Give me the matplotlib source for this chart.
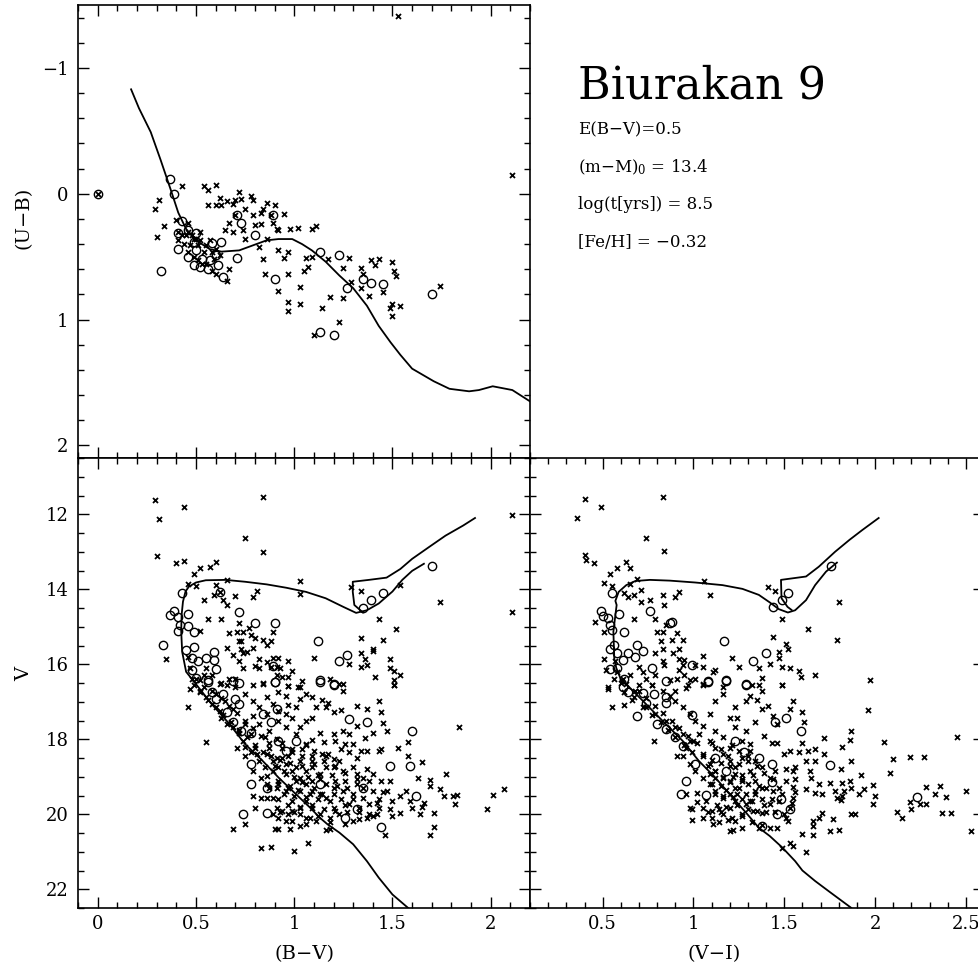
import numpy as np
import matplotlib
matplotlib.use("Agg")
import matplotlib.pyplot as plt
from matplotlib.ticker import MultipleLocator, FuncFormatter

plt.rcParams['font.family'] = ['DejaVu Serif']
plt.rcParams['mathtext.fontset'] = 'dejavuserif'

# ---- (U-B) vs (B-V) ----
ub_iso_bv = [0.17, 0.21, 0.27, 0.32, 0.37, 0.41, 0.45, 0.50, 0.57, 0.63, 0.72, 0.79, 0.86, 0.92,
             0.99, 1.04, 1.09, 1.16, 1.23, 1.30, 1.37, 1.43, 1.49, 1.54, 1.60, 1.71, 1.79, 1.89,
             1.94, 2.01, 2.11, 2.22]
ub_iso_ub = [-0.83, -0.68, -0.49, -0.27, -0.04, 0.15, 0.28, 0.37, 0.44, 0.46, 0.45, 0.41, 0.37, 0.36,
             0.36, 0.40, 0.45, 0.54, 0.65, 0.75, 0.89, 1.05, 1.18, 1.28, 1.39, 1.49, 1.55, 1.57,
             1.56, 1.53, 1.56, 1.67]

ub_cross = np.array([
    (0.29, 0.12), (0.31, 0.05), (0.34, 0.26), (0.30, 0.34), (0.43, -0.06), (0.54, -0.06), (0.56, -0.03),
    (0.60, -0.07), (0.62, 0.03), (0.60, 0.09), (0.56, 0.09), (0.63, 0.09), (0.66, 0.06), (0.69, 0.08),
    (0.72, -0.01), (0.70, 0.05), (0.73, 0.04), (0.78, 0.02), (0.79, 0.05), (0.86, 0.07), (0.90, 0.09),
    (0.95, 0.16), (0.75, 0.12), (0.79, 0.17), (0.83, 0.15), (0.84, 0.12), (0.70, 0.17), (0.67, 0.23),
    (0.65, 0.29), (0.69, 0.30), (0.74, 0.29), (0.75, 0.36), (0.80, 0.25), (0.83, 0.24), (0.88, 0.17),
    (0.89, 0.23), (0.91, 0.28), (0.92, 0.29), (0.98, 0.28), (1.02, 0.27), (1.09, 0.28), (1.11, 0.26),
    (0.82, 0.42), (0.84, 0.52), (0.85, 0.64), (0.86, 0.36), (0.92, 0.45), (0.95, 0.51), (0.97, 0.46),
    (0.97, 0.64), (0.92, 0.77), (0.97, 0.86), (0.97, 0.93), (1.03, 0.74), (1.03, 0.88), (1.05, 0.61),
    (1.07, 0.58), (1.06, 0.51), (1.09, 0.50), (1.17, 0.52), (1.25, 0.59), (1.28, 0.51), (1.29, 0.70),
    (1.25, 0.83), (1.18, 0.82), (1.14, 0.91), (1.23, 1.02), (1.34, 0.59), (1.34, 0.75), (1.38, 0.81),
    (1.35, 0.64), (1.39, 0.53), (1.41, 0.57), (1.43, 0.52), (1.45, 0.78), (1.50, 0.54), (1.51, 0.61),
    (1.52, 0.65), (1.50, 0.88), (1.49, 0.91), (1.54, 0.89), (1.50, 0.97), (1.74, 0.73), (1.10, 1.12),
    (0.40, 0.21), (0.46, 0.23), (0.67, 0.60), (0.66, 0.69), (0.60, 0.64), (0.41, 0.30), (0.45, 0.33),
    (0.43, 0.33), (0.46, 0.30), (0.49, 0.36), (0.52, 0.30), (0.41, 0.37), (0.44, 0.40), (0.47, 0.41),
    (0.51, 0.41), (0.52, 0.37), (0.55, 0.41), (0.58, 0.46), (0.59, 0.52), (0.53, 0.56), (0.49, 0.50),
    (0.55, 0.56), (0.58, 0.61), (0.62, 0.49), (0.51, 0.53), (0.46, 0.46), (0.54, 0.46), (0.60, 0.44),
    (0.50, 0.36), (0.48, 0.33), (0.57, 0.37), (2.11, -0.15), (1.53, -1.41), (0.00, 0.00)])

ub_circle = np.array([
    (0.37, -0.12), (0.39, 0.00), (0.43, 0.22), (0.41, 0.31), (0.41, 0.44), (0.46, 0.29), (0.49, 0.38),
    (0.50, 0.31), (0.46, 0.50), (0.49, 0.57), (0.52, 0.58), (0.50, 0.45), (0.53, 0.52), (0.56, 0.60),
    (0.57, 0.53), (0.58, 0.39), (0.60, 0.49), (0.61, 0.57), (0.63, 0.38), (0.64, 0.66), (0.71, 0.51),
    (0.73, 0.23), (0.71, 0.17), (0.80, 0.33), (0.89, 0.17), (0.90, 0.68), (1.13, 0.46), (1.23, 0.49),
    (1.27, 0.75), (1.13, 1.10), (1.20, 1.12), (1.35, 0.68), (1.39, 0.71), (1.45, 0.72), (1.70, 0.80),
    (0.32, 0.61), (0.00, 0.00)])

# ---- V vs (B-V) ----
bv_iso = np.array([
    (1.60, 22.65), (1.58, 22.50), (1.50, 22.14), (1.43, 21.69), (1.37, 21.25), (1.30, 20.80),
    (1.23, 20.49), (1.17, 20.27), (1.13, 20.09), (1.08, 19.82), (1.01, 19.47), (0.92, 19.02),
    (0.84, 18.58), (0.75, 18.13), (0.67, 17.59), (0.58, 17.06), (0.50, 16.53), (0.45, 16.20),
    (0.43, 15.67), (0.425, 15.13), (0.427, 14.69), (0.434, 14.33), (0.447, 14.06), (0.464, 13.93),
    (0.50, 13.82), (0.55, 13.76), (0.65, 13.75), (0.75, 13.80), (0.86, 13.87), (0.96, 13.96),
    (1.06, 14.07), (1.16, 14.24), (1.25, 14.47), (1.315, 14.63), (1.37, 14.56), (1.43, 14.38),
    (1.50, 14.06), (1.55, 13.75), (1.60, 13.51), (1.66, 13.32)])
bv_loop = np.array([
    (1.35, 14.62), (1.306, 14.42), (1.298, 14.07), (1.298, 13.80), (1.38, 13.75), (1.47, 13.69),
    (1.54, 13.46), (1.60, 13.19), (1.69, 12.86), (1.77, 12.57), (1.86, 12.30), (1.92, 12.10)])

bv_cross = np.array([
    (0.29, 11.61), (0.31, 12.13), (0.44, 11.81), (0.84, 11.55), (0.75, 12.64), (0.84, 13.00), (0.30, 13.10),
    (0.40, 13.29), (0.44, 13.25), (0.52, 13.42), (0.57, 13.41), (0.60, 13.28), (0.49, 13.60), (0.46, 13.87),
    (0.50, 13.90), (0.66, 13.75), (1.03, 13.77), (1.03, 14.13), (0.60, 13.89), (0.59, 14.14), (0.62, 14.07),
    (0.64, 14.29), (0.66, 14.42), (0.54, 14.29), (0.70, 14.17), (0.79, 14.21), (0.81, 14.05), (0.56, 14.78),
    (0.63, 14.80), (0.72, 14.89), (0.77, 15.02), (0.52, 15.11), (0.67, 15.16), (0.71, 15.15), (0.74, 15.15),
    (0.78, 15.22), (0.89, 15.15), (0.72, 15.38), (0.73, 15.38), (0.80, 15.31), (0.84, 15.36), (0.86, 15.49),
    (0.88, 15.38), (0.79, 15.56), (0.73, 15.58), (0.66, 15.56), (0.69, 15.76), (0.74, 15.70), (0.76, 15.67),
    (0.72, 15.92), (0.82, 15.85), (0.86, 15.94), (0.89, 15.82), (0.92, 15.83), (0.97, 15.90), (0.74, 16.11),
    (0.80, 16.04), (0.82, 16.11), (0.88, 16.07), (0.91, 16.07), (0.93, 16.11), (0.99, 16.17), (0.91, 16.28),
    (0.94, 16.34), (0.97, 16.34), (1.04, 16.45), (1.03, 16.61), (0.97, 16.59), (0.84, 16.52), (0.79, 16.56),
    (0.70, 16.38), (0.67, 16.40), (0.66, 16.56), (0.62, 16.52), (0.55, 16.11), (0.54, 16.29), (0.52, 16.43),
    (0.48, 16.38), (0.49, 16.56), (0.58, 16.29), (0.35, 15.85), (1.29, 13.93), (1.34, 14.05), (1.54, 13.89),
    (1.43, 14.80), (1.52, 15.07), (1.74, 14.35), (2.11, 14.60), (2.11, 12.03), (1.34, 15.29), (1.45, 15.36),
    (1.40, 15.58), (1.40, 15.65), (1.34, 15.71), (1.36, 15.87), (1.37, 16.03), (1.34, 16.07), (1.28, 15.98),
    (1.49, 15.85), (1.49, 16.11), (1.51, 16.19), (1.54, 16.29), (1.51, 16.43), (1.51, 16.56), (1.41, 16.34),
    (1.10, 15.83), (1.18, 16.38), (1.25, 16.53), (1.23, 16.53),
    (0.47, 16.66), (0.46, 17.15), (0.55, 18.06), (0.63, 16.51), (0.84, 16.51), (0.97, 16.57), (1.02, 16.61),
    (1.25, 16.70), (1.51, 16.54), (0.92, 16.75), (0.96, 16.84), (1.06, 16.79), (1.09, 16.88), (1.14, 16.95),
    (1.17, 17.02), (0.97, 17.08), (1.01, 17.15), (1.11, 17.15), (1.16, 17.15), (1.20, 17.28), (1.24, 17.22),
    (1.32, 17.11), (1.37, 17.20), (1.43, 16.99), (1.44, 17.28), (1.45, 17.57), (1.47, 17.77), (1.40, 17.84),
    (1.36, 17.97), (1.32, 17.64), (1.28, 17.86), (1.25, 17.77), (1.20, 17.86), (1.13, 17.84), (1.15, 18.07),
    (1.09, 18.02), (1.06, 18.13), (1.01, 17.86), (0.96, 17.68), (0.92, 17.51), (0.86, 17.33), (0.82, 17.15),
    (0.79, 16.97), (0.75, 16.79), (0.70, 16.61), (0.86, 16.88), (0.89, 17.06), (0.79, 17.37), (0.75, 17.59),
    (0.82, 17.59), (0.87, 17.77), (0.91, 17.99), (0.94, 18.22), (0.99, 18.35), (1.03, 18.57), (1.09, 18.44),
    (1.14, 18.40), (1.17, 18.38), (1.20, 18.53), (1.24, 18.26), (1.28, 18.35), (1.32, 18.49), (1.34, 18.31),
    (1.37, 18.31), (1.43, 18.31), (1.44, 18.26), (1.53, 18.22), (1.58, 18.06), (1.58, 18.44), (1.65, 18.60),
    (1.84, 17.67), (1.77, 18.93), (1.63, 19.02), (1.69, 19.09), (1.69, 19.24), (1.74, 19.33), (1.76, 19.51),
    (1.81, 19.51), (1.82, 19.73), (1.83, 19.49), (2.01, 19.48), (2.07, 19.33), (1.98, 19.85), (1.71, 19.96),
    (1.71, 20.33), (1.69, 20.56), (1.64, 20.00), (1.65, 19.81), (1.60, 19.84), (1.59, 19.64), (1.66, 19.69),
    (1.57, 19.38), (1.54, 19.51), (1.54, 19.96), (1.50, 20.05), (1.49, 19.87), (1.50, 19.64), (1.47, 19.38),
    (1.43, 19.60), (1.43, 19.82), (1.40, 20.05), (1.37, 20.09), (1.33, 20.13), (1.30, 20.18), (1.26, 20.27),
    (1.46, 20.54), (1.38, 19.11), (1.35, 19.02), (1.32, 18.93), (1.30, 18.75), (1.25, 18.84), (1.21, 19.11),
    (1.20, 19.29), (1.25, 19.38), (1.30, 19.47), (1.35, 19.56), (1.40, 19.38), (1.40, 18.93), (1.37, 18.80),
    (1.44, 19.11), (1.49, 19.11), (1.16, 19.56), (1.20, 19.82), (1.23, 20.00), (1.18, 20.09), (1.13, 20.00),
    (1.16, 20.43), (1.18, 20.40), (1.09, 19.82), (1.06, 19.64), (1.03, 20.00), (1.03, 20.31), (0.98, 20.40),
    (0.92, 20.40), (0.90, 20.40), (1.07, 20.76), (1.00, 20.98), (0.88, 20.87), (0.83, 20.91), (0.69, 20.38),
    (0.75, 20.25), (0.80, 19.84), (0.79, 19.51), (0.83, 19.56), (0.86, 19.56), (0.89, 19.57), (0.92, 19.60),
    (0.94, 19.91), (0.92, 20.09), (0.89, 20.00), (0.96, 20.18), (0.99, 19.91), (0.99, 19.64), (0.96, 19.38),
    (0.92, 19.11), (0.89, 18.84), (0.86, 18.98), (0.85, 18.74), (0.82, 18.57), (0.81, 18.40), (0.78, 18.35),
    (0.75, 18.44), (0.71, 18.22), (0.74, 18.04), (0.72, 17.82), (0.69, 17.68), (0.66, 17.59), (0.63, 17.42),
    (0.62, 17.24), (0.58, 17.06), (0.55, 16.88), (0.52, 16.70), (0.60, 16.79), (0.65, 16.97), (0.69, 17.19),
    (0.78, 17.86), (0.85, 17.95), (0.87, 18.22), (0.91, 18.49), (0.96, 18.66), (0.99, 18.84), (1.03, 19.02),
    (1.06, 19.20), (1.09, 19.38), (1.13, 19.47), (1.09, 19.11), (1.13, 18.93), (1.16, 18.75), (1.09, 18.75),
    (1.06, 18.84), (1.01, 19.11), (0.97, 19.29), (1.03, 19.38), (0.96, 18.93), (0.92, 18.75), (0.94, 18.49),
    (0.97, 18.44), (1.01, 18.75), (1.04, 18.27), (1.09, 18.57), (1.20, 18.75), (1.23, 18.57), (1.26, 19.11),
    (1.32, 19.20), (1.28, 19.73), (1.33, 19.82), (1.38, 19.73), (1.42, 20.00), (1.08, 20.09), (1.11, 20.18),
    (1.06, 20.27), (1.03, 19.82), (0.99, 20.18), (0.97, 20.00), (0.91, 19.82), (0.87, 19.29), (0.86, 19.20),
    (0.91, 19.29), (0.83, 19.02), (0.79, 18.84), (0.80, 18.22), (0.75, 18.20), (0.86, 18.40), (0.89, 18.57),
    (1.03, 17.68), (1.06, 17.51), (1.09, 17.42), (0.99, 17.42), (0.96, 17.33), (0.92, 17.24), (1.03, 16.93),
    (1.21, 18.04), (1.26, 18.13), (1.30, 18.13),
    # dense core and main-sequence band
    (0.88, 18.45), (0.93, 18.55), (0.98, 18.62), (1.04, 18.70), (1.10, 18.66), (1.15, 18.58), (1.19, 18.95),
    (1.13, 19.05), (1.07, 19.00), (1.00, 19.00), (0.95, 18.85), (0.90, 18.70), (0.92, 19.20), (0.98, 19.25),
    (1.04, 19.15), (1.10, 19.30), (1.16, 19.20), (1.22, 19.25), (1.27, 19.30), (1.24, 19.60), (1.18, 19.65),
    (1.12, 19.60), (1.06, 19.55), (1.00, 19.50), (0.95, 19.45), (0.97, 19.75), (1.03, 19.80), (1.09, 19.75),
    (1.15, 19.85), (1.21, 19.90), (1.27, 19.95), (1.33, 19.95), (1.30, 19.60), (1.35, 19.30), (1.32, 19.05),
    (1.26, 18.90), (1.21, 18.70), (1.16, 18.45), (1.10, 18.30), (1.04, 18.45), (0.99, 18.25), (0.94, 18.10),
    (1.06, 18.15), (1.12, 18.95), (1.02, 19.35), (1.08, 19.45), (1.14, 19.45), (1.20, 19.45), (1.26, 19.75),
    (1.12, 20.05), (1.18, 20.20), (1.06, 20.10), (1.00, 19.95), (0.93, 19.95), (1.38, 20.00), (1.42, 19.70),
    (1.45, 19.40), (0.52, 16.75), (0.56, 16.95), (0.60, 17.15), (0.64, 17.35), (0.68, 17.55), (0.72, 17.75),
    (0.76, 17.95), (0.80, 18.15), (0.84, 18.35), (0.58, 16.70), (0.63, 16.90), (0.67, 17.10), (0.71, 17.30),
    (0.75, 17.50), (0.79, 17.70), (0.83, 17.90), (0.87, 18.10), (0.54, 16.60), (0.50, 16.40), (0.47, 16.10),
    (0.46, 15.80)])

bv_circle = np.array([
    (0.43, 14.11), (0.62, 14.08), (0.39, 14.58), (0.37, 14.69), (0.41, 14.73), (0.46, 14.67), (0.42, 14.96),
    (0.46, 14.98), (0.41, 15.11), (0.49, 15.15), (0.72, 14.60), (0.80, 14.89), (0.90, 14.89), (0.33, 15.49),
    (0.45, 15.62), (0.49, 15.54), (0.48, 15.82), (0.51, 15.92), (0.55, 15.82), (0.59, 15.67), (0.59, 15.89),
    (0.48, 16.16), (0.60, 16.13), (0.56, 16.43), (0.50, 16.36), (1.12, 15.38), (1.27, 15.74), (1.23, 15.90),
    (1.13, 16.41), (1.20, 16.53), (0.89, 16.04), (0.90, 16.47), (0.72, 16.49), (1.35, 14.49), (1.39, 14.29),
    (1.45, 14.09), (1.70, 13.38), (0.69, 16.45),
    (0.56, 16.48), (0.58, 16.75), (0.64, 16.79), (0.60, 16.93), (0.70, 16.93), (0.72, 17.06), (0.66, 17.28),
    (0.69, 17.55), (0.73, 17.77), (0.78, 17.82), (0.88, 17.55), (0.91, 17.19), (0.84, 17.33), (0.90, 16.48),
    (1.13, 16.48), (1.20, 16.54), (1.28, 17.46), (1.37, 17.55), (1.60, 17.77), (1.49, 18.71), (1.59, 18.71),
    (1.62, 19.51), (1.35, 19.29), (1.32, 19.87), (1.44, 20.34), (0.78, 18.65), (0.78, 19.20), (0.86, 19.31),
    (0.86, 19.97), (0.74, 20.00), (0.96, 18.31), (0.92, 18.04), (1.01, 18.04), (1.13, 19.20), (1.26, 20.09)])

# ---- V vs (V-I) ----
vi_iso = np.array([
    (1.89, 22.65), (1.87, 22.50), (1.75, 22.07), (1.67, 21.78), (1.60, 21.50), (1.56, 21.25), (1.49, 20.89),
    (1.42, 20.58), (1.36, 20.36), (1.29, 19.96), (1.20, 19.47), (1.12, 19.02), (1.03, 18.58), (0.94, 18.04),
    (0.83, 17.51), (0.72, 16.97), (0.63, 16.53), (0.60, 16.40), (0.575, 16.10), (0.564, 15.85),
    (0.559, 15.13), (0.570, 14.69), (0.577, 14.42), (0.570, 14.31), (0.588, 14.07), (0.63, 13.89),
    (0.68, 13.78), (0.76, 13.75), (0.87, 13.77), (1.01, 13.82), (1.16, 13.89), (1.27, 13.99), (1.36, 14.15),
    (1.42, 14.35), (1.47, 14.53), (1.52, 14.62), (1.56, 14.56), (1.62, 14.29), (1.67, 13.89), (1.73, 13.53),
    (1.79, 13.29)])
vi_loop = np.array([
    (1.54, 14.55), (1.518, 14.47), (1.485, 14.24), (1.482, 13.75), (1.62, 13.66), (1.69, 13.40),
    (1.78, 13.00), (1.86, 12.68), (1.93, 12.42), (2.02, 12.10)])

vi_cross = np.array([
    (0.40, 11.60), (0.49, 11.81), (0.36, 12.10), (0.83, 11.54), (0.74, 12.64), (0.84, 12.98), (0.40, 13.08),
    (0.41, 13.22), (0.45, 13.29), (0.54, 13.59), (0.58, 13.42), (0.63, 13.28), (0.65, 13.42), (0.51, 13.84),
    (0.55, 13.90), (0.65, 13.87), (0.69, 13.73), (1.06, 13.77), (1.09, 14.14), (0.71, 14.03), (0.62, 14.11),
    (0.64, 14.20), (0.67, 14.15), (0.71, 14.33), (0.76, 14.29), (0.83, 14.15), (0.84, 14.42), (0.90, 14.20),
    (0.92, 14.07), (0.67, 14.78), (0.79, 14.80), (1.41, 13.93), (1.45, 14.04), (1.80, 14.35), (1.49, 14.80),
    (1.63, 15.06), (1.79, 15.34), (1.44, 15.27), (1.51, 15.47), (1.52, 15.58), (1.47, 15.67), (1.47, 15.82),
    (1.42, 15.98), (1.49, 16.07), (1.53, 16.11), (1.58, 16.19), (1.59, 16.34), (1.67, 16.29), (1.97, 16.43),
    (1.49, 16.56), (1.36, 16.11), (1.25, 16.07), (1.21, 15.83), (1.05, 15.78), (0.46, 14.88), (0.51, 15.13),
    (0.51, 15.85), (0.52, 16.16), (0.56, 16.40), (0.53, 16.61), (0.80, 15.15), (0.83, 15.13), (0.85, 14.96),
    (0.82, 15.38), (0.83, 15.58), (0.79, 15.71), (0.88, 15.36), (0.91, 15.16), (0.94, 15.36), (0.92, 15.58),
    (0.89, 15.71), (0.92, 15.85), (0.95, 15.89), (0.83, 15.92), (0.84, 16.03), (0.92, 16.16), (0.94, 16.03),
    (1.01, 16.03), (1.05, 16.07), (1.11, 16.20), (1.12, 16.16), (0.70, 16.07), (0.72, 16.20), (0.79, 16.29),
    (0.74, 16.38), (0.70, 16.54), (0.77, 16.56), (0.87, 16.43), (0.91, 16.38), (0.95, 16.29), (0.98, 16.43),
    (1.01, 16.38), (0.97, 16.56), (1.05, 16.56), (1.16, 16.61), (1.32, 16.56), (1.38, 16.36), (1.36, 16.56),
    (0.61, 16.38), (0.65, 16.29), (0.63, 16.52),
    (0.53, 16.66), (0.55, 17.13), (0.62, 17.08), (0.78, 18.04), (0.77, 16.54), (0.90, 16.70), (0.96, 16.63),
    (1.05, 16.53), (1.23, 17.15), (1.24, 17.42), (1.29, 16.97), (1.31, 16.84), (1.35, 16.94), (1.38, 16.72),
    (1.38, 17.19), (1.41, 17.10), (1.49, 16.54), (1.53, 17.19), (1.55, 16.99), (1.60, 17.28), (1.61, 17.55),
    (1.44, 17.37), (1.46, 17.59), (1.34, 17.55), (1.29, 17.77), (1.39, 17.91), (1.43, 18.09), (1.46, 18.09),
    (1.50, 18.40), (1.53, 18.31), (1.60, 18.10), (1.58, 18.35), (1.63, 18.31), (1.67, 18.26), (1.72, 17.97),
    (1.72, 18.38), (1.67, 18.57), (1.62, 18.57), (1.56, 18.75), (1.55, 18.84), (1.51, 18.80), (1.64, 18.84),
    (1.65, 19.02), (1.56, 19.07), (1.51, 19.11), (1.55, 19.27), (1.62, 19.33), (1.67, 19.42), (1.71, 19.47),
    (1.69, 19.20), (1.75, 19.16), (1.78, 19.38), (1.82, 19.16), (1.86, 19.11), (1.81, 18.80), (1.87, 18.57),
    (1.82, 18.20), (1.86, 18.02), (1.87, 17.77), (1.96, 17.22), (2.05, 18.06), (2.10, 18.53), (2.08, 18.91),
    (2.19, 18.46), (2.27, 18.46), (2.45, 17.93), (1.92, 18.96), (1.99, 19.22), (2.00, 19.51), (1.99, 19.72),
    (1.94, 19.33), (1.87, 19.29), (1.83, 19.38), (1.82, 19.51), (1.79, 19.56), (1.81, 19.63), (1.91, 19.47),
    (2.12, 19.93), (2.15, 20.09), (2.19, 19.66), (2.20, 19.85), (2.25, 19.72), (2.28, 19.73), (2.28, 19.27),
    (2.33, 19.47), (2.36, 19.24), (2.39, 19.54), (2.37, 19.96), (2.42, 19.96), (2.50, 19.38), (2.53, 20.45),
    (1.87, 20.00), (1.89, 20.00), (1.80, 20.43), (1.75, 20.45), (1.77, 20.13), (1.71, 19.96), (1.69, 20.09),
    (1.66, 20.18), (1.66, 20.31), (1.66, 20.55), (1.60, 20.52), (1.62, 21.00), (1.55, 20.85), (1.53, 20.76),
    (1.49, 20.89), (1.52, 20.18), (1.51, 20.09), (1.46, 20.36), (1.42, 20.36), (1.38, 20.29), (1.36, 20.36),
    (1.27, 20.36), (1.22, 20.43), (1.20, 20.45), (1.23, 20.18), (1.19, 20.16), (1.14, 20.20), (1.11, 20.25),
    (1.10, 20.09), (1.05, 20.11), (0.99, 20.16), (0.99, 19.87), (1.02, 19.66), (1.05, 19.82), (1.10, 19.91),
    (1.14, 19.87), (1.20, 19.82), (1.23, 19.64), (1.29, 19.73), (1.33, 19.91), (1.38, 19.96), (1.42, 19.73),
    (1.47, 19.64), (1.49, 19.47), (1.55, 19.56), (1.53, 19.82), (1.44, 19.38), (1.38, 19.29), (1.34, 19.11),
    (1.42, 19.02), (1.45, 18.84), (1.38, 18.75), (1.31, 18.84), (1.27, 19.11), (1.23, 19.29), (1.20, 19.47),
    (1.16, 19.56), (1.12, 19.38), (1.09, 19.20), (1.05, 19.02), (1.01, 18.84), (0.98, 18.66), (0.94, 18.44),
    (0.91, 18.44), (0.96, 18.22), (1.00, 18.04), (1.03, 17.86), (1.05, 17.64), (1.01, 17.51), (0.98, 17.33),
    (0.94, 17.15), (0.90, 16.97), (0.87, 16.84), (0.83, 16.70), (0.70, 16.70), (0.67, 16.88), (0.74, 17.15),
    (0.79, 17.33), (0.85, 17.51), (0.90, 17.68), (0.94, 17.86), (0.98, 18.04), (1.09, 18.04), (1.12, 18.22),
    (1.16, 18.40), (1.20, 18.57), (1.23, 18.75), (1.27, 18.49), (1.31, 18.31), (1.34, 18.57), (1.20, 18.22),
    (1.16, 17.95), (1.12, 17.77), (1.09, 17.33), (1.12, 16.97), (1.16, 16.79), (1.20, 17.42), (1.23, 17.68),
    (1.27, 18.04), (1.31, 18.13), (1.05, 18.40), (1.09, 18.66), (1.12, 18.84), (1.16, 19.02), (1.20, 19.11),
    (1.23, 18.93), (1.12, 19.02), (1.09, 18.93), (0.98, 19.82), (0.96, 19.45), (1.02, 19.42), (1.07, 19.64),
    (1.16, 20.00), (1.27, 20.00), (1.31, 19.64), (1.34, 19.38),
    # dense core and main-sequence band
    (1.05, 18.45), (1.10, 18.55), (1.15, 18.62), (1.20, 18.70), (1.25, 18.66), (1.30, 18.58), (1.33, 18.95),
    (1.27, 19.05), (1.22, 19.00), (1.16, 19.00), (1.12, 18.85), (1.08, 18.70), (1.10, 19.20), (1.15, 19.25),
    (1.20, 19.15), (1.25, 19.30), (1.30, 19.20), (1.36, 19.25), (1.40, 19.30), (1.38, 19.60), (1.32, 19.65),
    (1.27, 19.60), (1.22, 19.55), (1.16, 19.50), (1.12, 19.45), (1.13, 19.75), (1.18, 19.80), (1.24, 19.75),
    (1.30, 19.85), (1.35, 19.90), (1.40, 19.95), (1.45, 19.95), (1.43, 19.60), (1.47, 19.30), (1.44, 19.05),
    (1.39, 18.90), (1.35, 18.70), (1.30, 18.45), (1.25, 18.30), (1.19, 18.45), (1.15, 18.25), (1.10, 18.10),
    (1.21, 18.15), (1.27, 18.95), (1.18, 19.35), (1.24, 19.45), (1.29, 19.45), (1.34, 19.45), (1.39, 19.75),
    (1.27, 20.05), (1.32, 20.20), (1.21, 20.10), (1.15, 19.95), (1.08, 19.95), (1.50, 20.00), (1.54, 19.70),
    (1.56, 19.40), (0.62, 16.75), (0.66, 16.95), (0.72, 17.15), (0.77, 17.35), (0.82, 17.55), (0.86, 17.75),
    (0.90, 17.95), (0.95, 18.15), (0.99, 18.35), (0.68, 16.70), (0.74, 16.90), (0.79, 17.10), (0.83, 17.30),
    (0.88, 17.50), (0.92, 17.70), (0.97, 17.90), (1.02, 18.10), (0.60, 16.50), (0.58, 16.20), (0.57, 15.90)])

vi_circle = np.array([
    (0.55, 14.09), (0.49, 14.58), (0.50, 14.71), (0.53, 14.76), (0.54, 14.96), (0.55, 15.09), (0.59, 14.66),
    (0.62, 15.15), (0.76, 14.58), (0.87, 14.89), (0.88, 14.88), (1.17, 15.38), (0.56, 15.49), (0.54, 15.60),
    (0.58, 15.70), (0.61, 15.89), (0.64, 15.71), (0.68, 15.80), (0.69, 15.49), (0.72, 15.65), (0.54, 16.13),
    (0.58, 16.11), (0.62, 16.38), (0.77, 16.11), (0.85, 16.45), (0.99, 16.03), (1.08, 16.45), (1.18, 16.41),
    (1.29, 16.53), (1.33, 15.92), (1.40, 15.71), (1.44, 14.47), (1.49, 14.29), (1.52, 14.09), (1.76, 13.37),
    (0.61, 16.60), (0.64, 16.75), (0.72, 16.77), (0.74, 17.04), (0.78, 16.79), (0.85, 16.88), (0.85, 17.04),
    (0.69, 17.37), (0.80, 17.58), (0.85, 17.73), (0.90, 17.95), (0.94, 18.17), (0.99, 17.35), (1.01, 18.65),
    (1.08, 16.48), (1.18, 16.45), (1.29, 16.54), (1.45, 17.55), (1.51, 17.43), (1.59, 17.77), (1.28, 18.35),
    (1.36, 18.49), (1.43, 18.66), (1.75, 18.69), (1.43, 19.15), (1.48, 19.60), (1.53, 19.87), (1.46, 20.00),
    (1.38, 20.31), (1.07, 19.48), (0.93, 19.47), (2.23, 19.54), (1.12, 18.49), (1.23, 18.04), (0.96, 19.11),
    (1.18, 18.84)])


def num(v, pos):
    return ('%g' % v).replace('-', '\u2212')


def style(ax, xmaj, xmin, ymaj, ymin):
    ax.xaxis.set_major_locator(MultipleLocator(xmaj))
    ax.xaxis.set_minor_locator(MultipleLocator(xmin))
    ax.yaxis.set_major_locator(MultipleLocator(ymaj))
    ax.yaxis.set_minor_locator(MultipleLocator(ymin))
    ax.xaxis.set_major_formatter(FuncFormatter(num))
    ax.yaxis.set_major_formatter(FuncFormatter(num))
    ax.tick_params(which='both', direction='in', top=True, right=True, width=1.0, labelsize=13)
    ax.tick_params(which='major', length=8)
    ax.tick_params(which='minor', length=4.5)
    ax.tick_params(axis='x', pad=5)
    ax.tick_params(axis='y', pad=7)
    for s in ax.spines.values():
        s.set_linewidth(1.2)


def points(ax, cross, circle):
    ax.plot(cross[:, 0], cross[:, 1], 'x', color='k', ms=3.6, mew=1.3)
    ax.plot(circle[:, 0], circle[:, 1], 'o', mfc='none', mec='k', ms=6, mew=1.0)


fig = plt.figure(figsize=(9.79, 9.63), dpi=100)
ax1 = fig.add_axes([0.0797, 0.5244, 0.4617, 0.4704])
ax2 = fig.add_axes([0.0797, 0.0571, 0.4617, 0.4673])
ax3 = fig.add_axes([0.5414, 0.0571, 0.4637, 0.4673])

# top panel
ax1.plot(ub_iso_bv, ub_iso_ub, color='k', lw=1.3)
points(ax1, ub_cross, ub_circle)
ax1.set_xlim(-0.1, 2.2)
ax1.set_ylim(2.1, -1.5)
style(ax1, 0.5, 0.1, 1, 0.2)
ax1.tick_params(labelbottom=False)
ax1.set_ylabel('(U\u2212B)', fontsize=14)
ax1.yaxis.set_label_coords(-0.10, 0.53)

# V vs (B-V)
ax2.plot(bv_iso[:, 0], bv_iso[:, 1], color='k', lw=1.3)
ax2.plot(bv_loop[:, 0], bv_loop[:, 1], color='k', lw=1.3)
points(ax2, bv_cross, bv_circle)
ax2.set_xlim(-0.1, 2.2)
ax2.set_ylim(22.5, 10.5)
style(ax2, 0.5, 0.1, 2, 0.5)
ax2.set_xlabel('(B\u2212V)', fontsize=14)
ax2.set_ylabel('V', fontsize=14)
ax2.xaxis.set_label_coords(0.5, -0.082)
ax2.yaxis.set_label_coords(-0.10, 0.52)

# V vs (V-I)
ax3.plot(vi_iso[:, 0], vi_iso[:, 1], color='k', lw=1.3)
ax3.plot(vi_loop[:, 0], vi_loop[:, 1], color='k', lw=1.3)
points(ax3, vi_cross, vi_circle)
ax3.set_xlim(0.1, 2.6)
ax3.set_ylim(22.5, 10.5)
style(ax3, 0.5, 0.1, 2, 0.5)
ax3.tick_params(labelleft=False)
ax3.set_xlabel('(V\u2212I)', fontsize=14)
ax3.xaxis.set_label_coords(0.405, -0.082)

# labels in the empty corner
fig.text(0.590, 0.898, 'Biurakan 9', fontsize=32, va='baseline')
fig.text(0.590, 0.860, 'E(B\u2212V)=0.5', fontsize=12, va='baseline')
fig.text(0.590, 0.821, '(m\u2212M)$_0$ = 13.4', fontsize=12, va='baseline')
fig.text(0.590, 0.783, 'log(t[yrs]) = 8.5', fontsize=12, va='baseline')
fig.text(0.590, 0.744, '[Fe/H] = \u22120.32', fontsize=12, va='baseline')

fig.savefig('out.png', dpi=100)
